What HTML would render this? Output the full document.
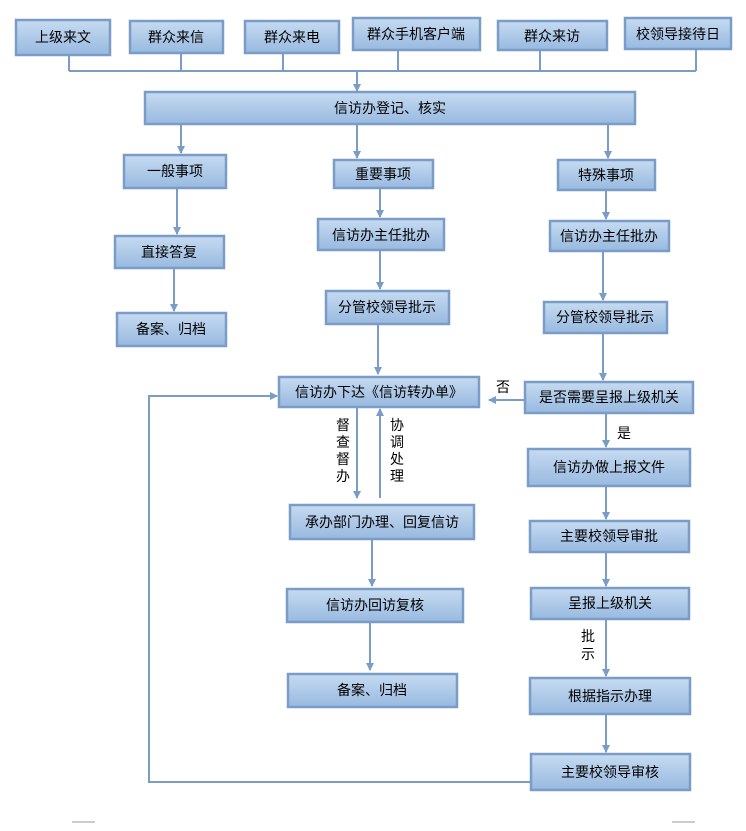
<!DOCTYPE html>
<html><head><meta charset="utf-8"><style>
html,body{margin:0;padding:0;background:#fff;}
svg text{font-family:"Liberation Sans","Noto Sans CJK SC",sans-serif;font-size:14px;fill:#000;}
</style></head><body>
<svg width="746" height="826" viewBox="0 0 746 826" xmlns="http://www.w3.org/2000/svg">
<defs>
<linearGradient id="g" x1="0" y1="0" x2="0" y2="1">
<stop offset="0" stop-color="#c6dbf1"/><stop offset="1" stop-color="#98b9e0"/>
</linearGradient>
<marker id="a" markerWidth="8" markerHeight="8" refX="7" refY="4" orient="auto" markerUnits="userSpaceOnUse">
<path d="M0,0 L8,4 L0,8 Z" fill="#7a9cc6"/>
</marker>
</defs>
<g stroke="#7a9cc6" stroke-width="2" fill="none">
<path d="M69,55V71M181,53V71M283,53V71M398,50V71M540,50V71M696,49V71M69,71H696"/>
</g>
<g stroke="#7a9cc6" stroke-width="2" fill="none" marker-end="url(#a)">
<path d="M357,71V91"/>
<path d="M181,124V153"/><path d="M357,124V158"/><path d="M608,124V158"/>
<path d="M177,188V234"/><path d="M174,268V311"/>
<path d="M380,188V217"/><path d="M380,250V289"/><path d="M378,324V374"/>
<path d="M606,190V219"/><path d="M603,251V300"/><path d="M603,333V380"/>
<path d="M525,400H489"/>
<path d="M606,413V447"/><path d="M606,486V519"/><path d="M606,552V586"/><path d="M606,619V676"/><path d="M606,714V752"/>
<path d="M531,782H149V396H277"/>
<path d="M357,407V498"/>
<path d="M380,498V409"/>
<path d="M372,539V586"/><path d="M370,622V670"/>
</g>
<g stroke="#7a9cc6" stroke-width="2.5" fill="url(#g)">
<rect x="16" y="20" width="94" height="35"/>
<rect x="130" y="21" width="93" height="32"/>
<rect x="245" y="21" width="94" height="32"/>
<rect x="353" y="18" width="127" height="32"/>
<rect x="498" y="21" width="109" height="29"/>
<rect x="625" y="18" width="106" height="31"/>
<rect x="145" y="92" width="490" height="32"/>
<rect x="124" y="155" width="102" height="33"/>
<rect x="334" y="160" width="99" height="28"/>
<rect x="558" y="160" width="97" height="30"/>
<rect x="115" y="236" width="109" height="32"/>
<rect x="117" y="313" width="109" height="33"/>
<rect x="318" y="219" width="126" height="31"/>
<rect x="326" y="291" width="123" height="33"/>
<rect x="279" y="377" width="200" height="30"/>
<rect x="550" y="221" width="119" height="30"/>
<rect x="544" y="302" width="123" height="31"/>
<rect x="525" y="382" width="168" height="31"/>
<rect x="528" y="449" width="162" height="37"/>
<rect x="530" y="521" width="159" height="31"/>
<rect x="531" y="588" width="158" height="31"/>
<rect x="530" y="678" width="160" height="36"/>
<rect x="531" y="754" width="159" height="36"/>
<rect x="290" y="505" width="184" height="34"/>
<rect x="287" y="589" width="176" height="33"/>
<rect x="288" y="674" width="169" height="33"/>
</g>
<g text-anchor="middle">
<text x="63" y="42">上级来文</text>
<text x="176" y="42">群众来信</text>
<text x="292" y="42">群众来电</text>
<text x="416" y="39">群众手机客户端</text>
<text x="552" y="41">群众来访</text>
<text x="678" y="39">校领导接待日</text>
<text x="390" y="113">信访办登记、核实</text>
<text x="175" y="176">一般事项</text>
<text x="383" y="179">重要事项</text>
<text x="606" y="180">特殊事项</text>
<text x="169" y="257">直接答复</text>
<text x="171" y="334">备案、归档</text>
<text x="381" y="240">信访办主任批办</text>
<text x="387" y="312">分管校领导批示</text>
<text x="379" y="397">信访办下达《信访转办单》</text>
<text x="609" y="241">信访办主任批办</text>
<text x="605" y="322">分管校领导批示</text>
<text x="609" y="402">是否需要呈报上级机关</text>
<text x="609" y="472">信访办做上报文件</text>
<text x="609" y="541">主要校领导审批</text>
<text x="610" y="608">呈报上级机关</text>
<text x="610" y="701">根据指示办理</text>
<text x="610" y="777">主要校领导审核</text>
<text x="382" y="527">承办部门办理、回复信访</text>
<text x="375" y="610">信访办回访复核</text>
<text x="372" y="695">备案、归档</text>
<text x="503" y="392">否</text>
<text x="624" y="438">是</text>
<text x="343" y="430">督</text><text x="343" y="447">查</text><text x="343" y="464">督</text><text x="343" y="481">办</text>
<text x="397" y="430">协</text><text x="397" y="447">调</text><text x="397" y="464">处</text><text x="397" y="481">理</text>
<text x="588" y="641">批</text><text x="588" y="659">示</text>
</g>
<g stroke="#999" stroke-width="1"><path d="M72,822H95M672,822H695"/></g>
</svg>
</body></html>
